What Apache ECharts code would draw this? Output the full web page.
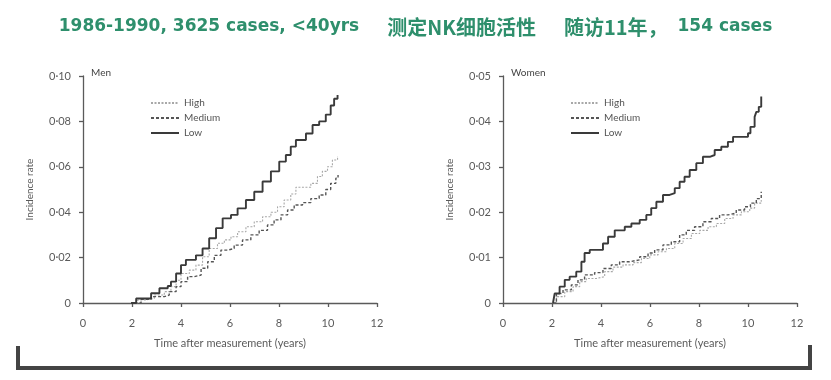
<!DOCTYPE html>
<html>
<head>
<meta charset="utf-8">
<script src="https://cdn.jsdelivr.net/npm/echarts@6/dist/echarts.min.js"></script>
<style>
html,body{margin:0;padding:0;background:#fff;}
#main{width:831px;height:380px;}
</style>
</head>
<body>
<div id="main"></div>
<script>
// ---- data (years after measurement, cumulative incidence) ----
var titleParts = ['1986-1990, 3625 cases, <40yrs', '测定NK细胞活性', '随访11年，', '154 cases'];
var groupNames = ['High', 'Medium', 'Low'];
var panelNames = ['Men', 'Women'];
var xTicks = [0, 2, 4, 6, 8, 10, 12];

var menLowT  = [1.96,2.17,2.78,3.12,3.46,3.59,3.80,4.00,4.20,4.61,4.88,5.15,5.43,5.70,6.04,6.31,6.65,6.99,7.33,7.67,8.01,8.28,8.48,8.69,9.10,9.37,9.64,9.91,10.11,10.25,10.39];
var menLowV  = [0,0.0020,0.0043,0.0065,0.0075,0.0094,0.0130,0.0167,0.0190,0.0210,0.0240,0.0285,0.0330,0.0373,0.0388,0.0417,0.0454,0.0490,0.0535,0.0580,0.0623,0.0652,0.0689,0.0718,0.0747,0.0784,0.0800,0.0830,0.0870,0.0900,0.0916];
var menHighT = [2.03,2.23,2.51,2.91,3.32,3.59,3.80,4.00,4.34,4.61,4.88,5.15,5.49,5.77,6.04,6.31,6.65,6.99,7.33,7.67,7.94,8.21,8.48,8.69,9.30,9.57,9.77,9.98,10.18,10.39];
var menHighV = [0,0.0013,0.0020,0.0035,0.0050,0.0072,0.0100,0.0130,0.0145,0.0167,0.0204,0.0240,0.0263,0.0278,0.0292,0.0314,0.0336,0.0358,0.0380,0.0400,0.0424,0.0454,0.0480,0.0510,0.0527,0.0557,0.0580,0.0600,0.0630,0.0648];
var menMedT  = [2.10,2.37,2.78,3.32,3.52,3.80,4.00,4.27,4.54,4.82,5.09,5.36,5.63,5.90,6.17,6.51,6.85,7.19,7.53,7.80,8.08,8.35,8.62,8.96,9.30,9.64,9.91,10.11,10.32,10.41];
var menMedV  = [0,0.0016,0.0028,0.0035,0.0050,0.0072,0.0094,0.0116,0.0123,0.0153,0.0182,0.0210,0.0233,0.0240,0.0255,0.0278,0.0300,0.0320,0.0344,0.0366,0.0388,0.0410,0.0432,0.0442,0.0460,0.0476,0.0500,0.0527,0.0550,0.0564];

var womenLowT  = [2.04,2.11,2.31,2.52,2.72,2.99,3.20,3.33,3.54,4.08,4.29,4.56,4.97,5.24,5.58,5.85,6.05,6.26,6.53,6.80,7.01,7.21,7.41,7.62,7.89,8.16,8.44,8.64,8.91,9.18,9.39,10.00,10.10,10.27,10.34,10.44,10.54];
var womenLowV  = [0,0.0021,0.0036,0.0051,0.0058,0.0069,0.0091,0.0110,0.0117,0.0131,0.0146,0.0160,0.0168,0.0175,0.0183,0.0194,0.0209,0.0223,0.0238,0.0242,0.0253,0.0267,0.0278,0.0293,0.0308,0.0322,0.0326,0.0337,0.0344,0.0355,0.0366,0.0374,0.0388,0.0410,0.0421,0.0432,0.0455];
var womenMedT  = [2.04,2.18,2.45,2.79,3.06,3.33,3.74,4.08,4.42,4.76,5.17,5.58,5.92,6.19,6.53,6.87,7.21,7.48,7.82,8.16,8.50,8.84,9.18,9.52,9.86,10.10,10.34,10.54];
var womenMedV  = [0,0.0021,0.0029,0.0040,0.0051,0.0062,0.0067,0.0076,0.0084,0.0091,0.0095,0.0102,0.0110,0.0117,0.0128,0.0135,0.0150,0.0160,0.0168,0.0179,0.0186,0.0194,0.0198,0.0205,0.0212,0.0220,0.0230,0.0245];
var womenHighT = [2.04,2.18,2.52,2.86,3.13,3.40,3.81,4.15,4.49,4.90,5.31,5.65,5.99,6.33,6.67,7.01,7.35,7.69,8.03,8.37,8.71,9.05,9.39,9.73,10.07,10.27,10.54];
var womenHighV = [0,0.0014,0.0025,0.0036,0.0047,0.0054,0.0058,0.0069,0.0079,0.0084,0.0089,0.0098,0.0106,0.0113,0.0120,0.0131,0.0142,0.0153,0.0160,0.0168,0.0175,0.0186,0.0194,0.0201,0.0209,0.0220,0.0227];

// ---- build ----
function zip(t, v) { return t.map(function (x, i) { return [x, v[i]]; }); }
var FONT = 'Lato, "Open Sans", sans-serif';
var AX = '#5a5a5a';
var GREEN = '#2e8f6c';

var styles = {
  High:   { color: '#a8a8a8', width: 1.1, type: [2, 1.5] },
  Medium: { color: '#555555', width: 1.4, type: [3, 2] },
  Low:    { color: '#3a3a3a', width: 1.9, type: 'solid' }
};

var panels = [
  { name: panelNames[0], max: 0.10, interval: 0.02, data: { High: zip(menHighT, menHighV), Medium: zip(menMedT, menMedV), Low: zip(menLowT, menLowV) } },
  { name: panelNames[1], max: 0.05, interval: 0.01, data: { High: zip(womenHighT, womenHighV), Medium: zip(womenMedT, womenMedV), Low: zip(womenLowT, womenLowV) } }
];

var gridLefts = [83, 503];
var grids = [], xAxes = [], yAxes = [], series = [], legends = [], titles = [];

titles.push({
  text: '{a|' + titleParts[0] + '}{s|}{c|' + titleParts[1] + '}{s|}{c|' + titleParts[2] + '}{t|}{a|' + titleParts[3] + '}',
  left: 'center', top: 8,
  textStyle: {
    rich: {
      a: { color: GREEN, fontSize: 17, fontWeight: 'bold', fontFamily: '"DejaVu Sans", sans-serif', height: 28 },
      c: { color: GREEN, fontSize: 20, fontWeight: 'bold', fontFamily: '"Noto Sans CJK SC", sans-serif', height: 28 },
      s: { width: 28 },
      t: { width: 10 }
    }
  }
});

panels.forEach(function (p, i) {
  grids.push({ left: gridLefts[i], width: 294, top: 76, height: 227, containLabel: false });
  xAxes.push({
    type: 'value', gridIndex: i, min: 0, max: 12, interval: 2, offset: 5,
    name: 'Time after measurement (years)', nameLocation: 'middle', nameGap: 30,
    nameTextStyle: { color: AX, fontSize: 11, fontFamily: FONT },
    axisLine: { show: true, lineStyle: { color: AX, width: 1.3 } },
    axisTick: { show: true, length: 4, lineStyle: { color: AX, width: 1.3 } },
    axisLabel: { color: AX, fontSize: 11, fontFamily: FONT, margin: 10,
      formatter: function (v) { return xTicks.indexOf(v) >= 0 ? String(v) : ''; } },
    splitLine: { show: false }
  });
  yAxes.push({
    type: 'value', gridIndex: i, min: 0, max: p.max, interval: p.interval, offset: 4,
    name: 'Incidence rate', nameLocation: 'middle', nameGap: 44, nameRotate: 90,
    nameTextStyle: { color: AX, fontSize: 10, fontFamily: FONT },
    axisLine: { show: true, lineStyle: { color: AX, width: 1.3 } },
    axisTick: { show: true, length: 4, lineStyle: { color: AX, width: 1.3 } },
    axisLabel: { color: AX, fontSize: 11, fontFamily: FONT, margin: 8,
      formatter: function (v) { return v === 0 ? '0' : v.toFixed(2).replace('.', '\u00b7'); } },
    splitLine: { show: false }
  });
  titles.push({
    text: p.name, left: gridLefts[i] + 3, top: 63,
    textStyle: { color: '#444', fontSize: 10, fontWeight: 'normal', fontFamily: FONT }
  });
  groupNames.forEach(function (g) {
    series.push({
      name: g, type: 'line', xAxisIndex: i, yAxisIndex: i, step: 'end',
      symbol: 'none', silent: true, animation: false,
      data: p.data[g],
      lineStyle: { color: styles[g].color, width: styles[g].width, type: styles[g].type },
      itemStyle: { color: styles[g].color },
      z: g === 'Low' ? 3 : 2
    });
  });
  legends.push({
    data: groupNames,
    orient: 'vertical', left: gridLefts[i] + 62, top: 93,
    itemWidth: 28, itemHeight: 9, itemGap: 5,
    itemStyle: { opacity: 0, borderWidth: 0 },
    textStyle: { color: '#555', fontSize: 10, fontFamily: FONT },
    selectedMode: false
  });
});

var chart = echarts.init(document.getElementById('main'), null, { renderer: 'canvas' });
chart.setOption({
  backgroundColor: '#ffffff',
  animation: false,
  title: titles,
  grid: grids,
  xAxis: xAxes,
  yAxis: yAxes,
  legend: legends,
  series: series,
  graphic: [{
    type: 'polyline',
    shape: { points: [[18, 346], [18, 368], [810, 368], [810, 345]] },
    style: { stroke: '#444', lineWidth: 4, fill: null, lineJoin: 'miter' },
    silent: true
  }]
});
</script>
</body>
</html>
